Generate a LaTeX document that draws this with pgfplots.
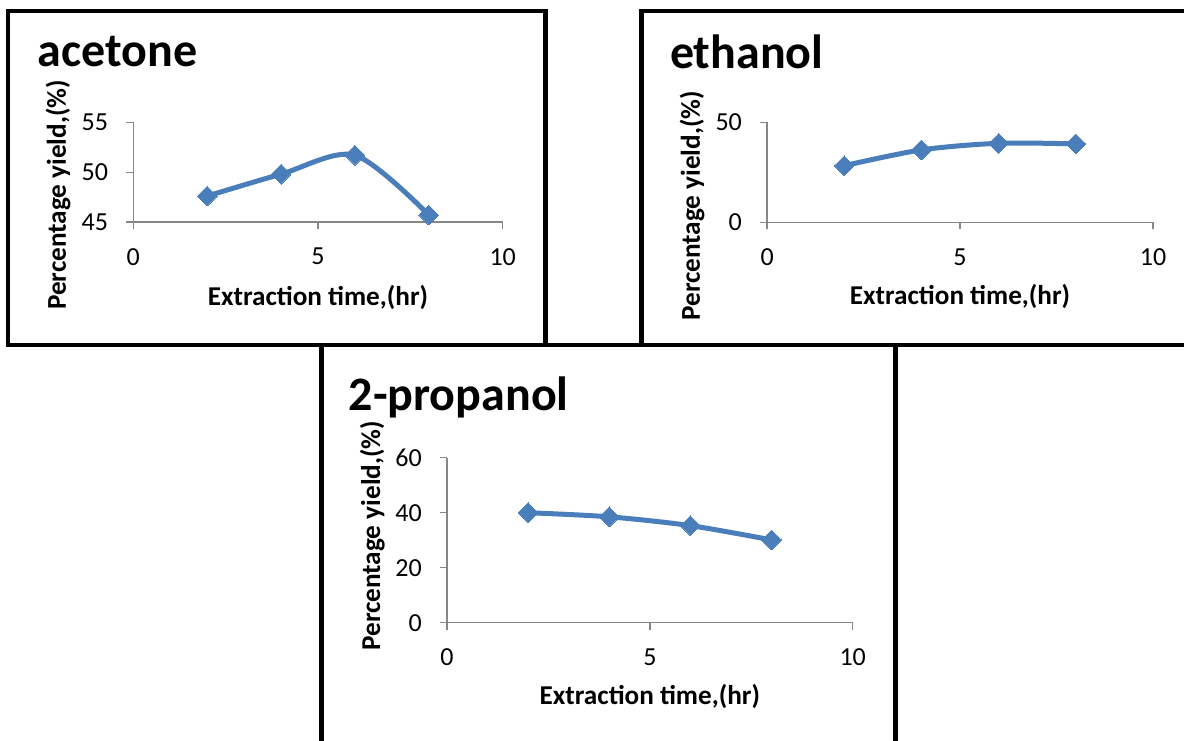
\documentclass[border=0pt]{standalone}
\usepackage{fontspec}
\setmainfont{Carlito}
\usepackage{pgfplots}
\pgfplotsset{compat=1.18}

\definecolor{serieblue}{HTML}{4A7EBB}
\definecolor{axisgray}{HTML}{868686}

\pgfplotsset{
  panel/.style={
    scale only axis,
    anchor=south west,
    axis lines*=left,
    axis line style={axisgray, line width=0.65pt},
    tick style={axisgray, line width=0.65pt},
    tick align=outside,
    major tick length=3.4pt,
    xmin=0, xmax=10,
    xtick={0,5,10},
    minor tick num=0,
    /pgf/number format/assume math mode=true,
    ticklabel style={font=\fontsize{13pt}{15pt}\selectfont, text=black},
    yticklabel style={inner sep=0pt, xshift=-9pt},
    xticklabel style={inner sep=0pt, yshift=-9.5pt},
    label style={font=\fontsize{13.6pt}{16pt}\selectfont\bfseries},
    xlabel={Extraction time,(hr)},
    ylabel={Percentage yield,(\%)},
    clip=false,
  },
  yieldline/.style={
    serieblue, line width=2.5pt, smooth,
    mark=square*, mark size=3.5pt,
    mark options={rotate=45, fill=serieblue, draw=serieblue, line width=0pt},
  },
}

\newcommand{\paneltitle}[2]{%
  \node[anchor=base west, inner sep=0pt,
        font=\fontsize{24pt}{28pt}\selectfont\bfseries] at #1 {#2};}

\begin{document}
\begin{tikzpicture}
\path[use as bounding box] (0pt,0pt) rectangle (592pt,-370pt);

\begin{scope}
  \clip (0pt,0pt) rectangle (592pt,-370pt);
  % frames of the three panels
  \draw[line width=2.25pt] (4pt,-5.5pt) rectangle (272.75pt,-172.5pt);
  \draw[line width=2.25pt] (320.75pt,-5.5pt) rectangle (600pt,-172.5pt);
  \draw[line width=2.25pt] (160.75pt,-172.5pt) rectangle (447.75pt,-380pt);
\end{scope}

\paneltitle{(18.75pt,-33.35pt)}{acetone}
\paneltitle{(334.8pt,-34.15pt)}{ethanol}
\paneltitle{(174.15pt,-205pt)}{2-propanol}

% acetone
\begin{axis}[panel,
  at={(66.65pt,-111pt)}, width=184.7pt, height=49.85pt,
  ymin=45, ymax=55, ytick={45,50,55},
  xlabel style={at={(rel axis cs:0.5,-0.8325)}, anchor=base},
  ylabel style={at={(rel axis cs:-0.1822,0.2708)}, anchor=base, rotate=0},
]
\addplot[yieldline] coordinates {(2,47.6) (4,49.8) (6,51.7) (8,45.7)};
\end{axis}

% ethanol
\begin{axis}[panel,
  at={(383.55pt,-111.15pt)}, width=192.95pt, height=50pt,
  ymin=0, ymax=50, ytick={0,50},
  xlabel style={at={(rel axis cs:0.5,-0.82)}, anchor=base},
  ylabel style={at={(rel axis cs:-0.1739,0.165)}, anchor=base, rotate=0},
]
\addplot[yieldline] coordinates {(2,28.3) (4,36.2) (6,39.5) (8,39.2)};
\end{axis}

% 2-propanol
\begin{axis}[panel,
  at={(223.5pt,-311.35pt)}, width=202.85pt, height=82.5pt,
  ymin=0, ymax=60, ytick={0,20,40,60},
  xlabel style={at={(rel axis cs:0.5,-0.4927)}, anchor=base},
  ylabel style={at={(rel axis cs:-0.1651,0.527)}, anchor=base, rotate=0},
]
\addplot[yieldline] coordinates {(2,40.0) (4,38.5) (6,35.3) (8,30.1)};
\end{axis}
\end{tikzpicture}
\end{document}
